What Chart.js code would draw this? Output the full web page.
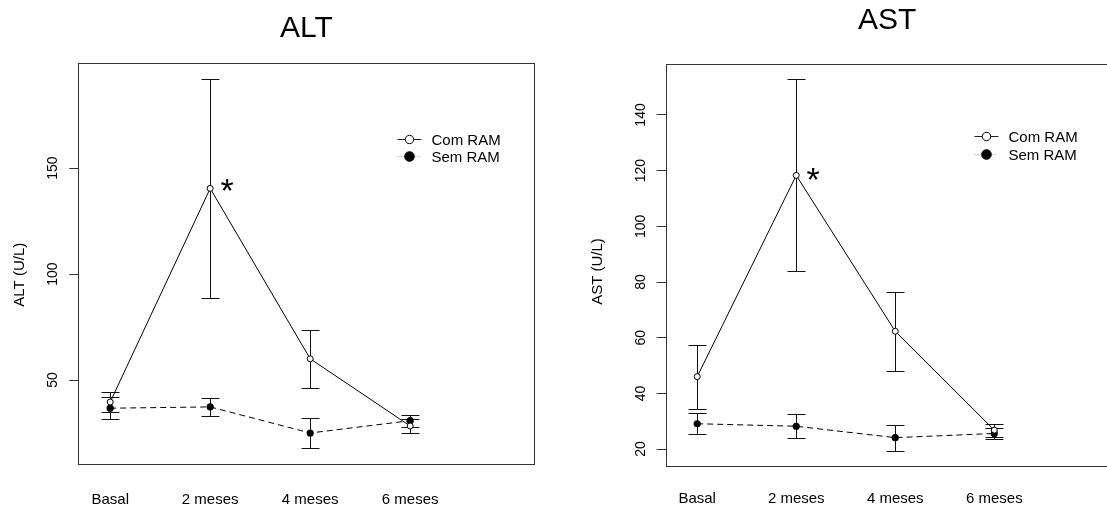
<!DOCTYPE html>
<html>
<head>
<meta charset="utf-8">
<title>ALT / AST</title>
<script src="https://cdn.jsdelivr.net/npm/chart.js@4.4.1/dist/chart.umd.min.js"></script>
<style>
  html, body { margin: 0; padding: 0; background: #fff; overflow: hidden; }
  #wrap { position: relative; width: 1107px; height: 506px; overflow: hidden; background: #fff; }
  .panel { position: absolute; top: 0; height: 506px; }
  #altBox { left: 0; width: 560px; }
  #astBox { left: 560px; width: 700px; }
</style>
</head>
<body>
<div id="wrap">
  <div class="panel" id="altBox"><canvas id="altChart"></canvas></div>
  <div class="panel" id="astBox"><canvas id="astChart"></canvas></div>
</div>
<script>
// ---- values (mean and +/- error) ----
const categories = ['Basal', '2 meses', '4 meses', '6 meses'];
const seriesNames = ['Com RAM', 'Sem RAM'];

const altCom = [39.6, 140.4, 60.0, 28.3];
const altComErr = [4.9, 51.6, 13.6, 3.3];
const altSem = [36.7, 37.3, 25.0, 30.8];
const altSemErr = [5.1, 4.3, 7.2, 2.9];
const altTicks = [50, 100, 150];

const astCom = [46.0, 118.3, 62.3, 26.8];
const astComErr = [11.5, 34.5, 14.2, 2.3];
const astSem = [29.1, 28.2, 24.1, 25.6];
const astSemErr = [3.7, 4.3, 4.7, 2.0];
const astTicks = [20, 40, 60, 80, 100, 120, 140];

// significant difference marked at "2 meses"
const starIndex = 1;

const FONT = "'Liberation Sans', Arial, Helvetica, sans-serif";
const INK = '#000';
Chart.defaults.font.family = FONT;
Chart.defaults.color = INK;

function toXY(values) {
  return values.map((v, i) => ({ x: i + 1, y: v }));
}

// -------------------- error bars (drawn under the points) --------------------
const errorBars = {
  id: 'errorBars',
  beforeDatasetsDraw(chart) {
    const ctx = chart.ctx, xs = chart.scales.x, ys = chart.scales.y;
    ctx.save();
    ctx.strokeStyle = '#111';
    ctx.lineWidth = 1;
    chart.data.datasets.forEach(ds => {
      ds.data.forEach((pt, i) => {
        const e = ds.errors[i];
        const px = Math.round(xs.getPixelForValue(pt.x)) + 0.5;
        const top = Math.round(ys.getPixelForValue(pt.y + e)) + 0.5;
        const bot = Math.round(ys.getPixelForValue(pt.y - e)) + 0.5;
        ctx.beginPath();
        ctx.moveTo(px, top); ctx.lineTo(px, bot);
        ctx.moveTo(px - 9, top); ctx.lineTo(px + 9, top);
        ctx.moveTo(px - 9, bot); ctx.lineTo(px + 9, bot);
        ctx.stroke();
      });
    });
    ctx.restore();
  }
};

// -------------------- box, y title, asterisk, legend --------------------
const extras = {
  id: 'extras',
  afterDraw(chart, args, opts) {
    const { ctx, chartArea: a } = chart;
    const xs = chart.scales.x, ys = chart.scales.y;

    // frame
    ctx.save();
    ctx.strokeStyle = '#333';
    ctx.lineWidth = 1;
    ctx.strokeRect(Math.round(a.left) + 0.5, Math.round(a.top) + 0.5,
                   Math.round(a.right - a.left), Math.round(a.bottom - a.top));
    ctx.restore();

    // y axis title
    ctx.save();
    ctx.fillStyle = INK;
    ctx.font = `15px ${FONT}`;
    ctx.textAlign = 'center';
    ctx.textBaseline = 'middle';
    ctx.translate(a.left + opts.yTitle.dx, a.top + opts.yTitle.dy);
    ctx.rotate(-Math.PI / 2);
    ctx.fillText(opts.yTitle.text, 0, 0);
    ctx.restore();

    // asterisk next to the peak
    const pt = chart.data.datasets[0].data[starIndex];
    ctx.save();
    ctx.fillStyle = INK;
    ctx.font = `34px ${FONT}`;
    ctx.textAlign = 'center';
    ctx.textBaseline = 'alphabetic';
    ctx.fillText('*', xs.getPixelForValue(pt.x) + 17, ys.getPixelForValue(pt.y) + opts.starDy);
    ctx.restore();

    // legend
    const lg = opts.legend;
    ctx.save();
    ctx.font = `15px ${FONT}`;
    ctx.textBaseline = 'middle';
    ctx.textAlign = 'left';
    chart.data.datasets.forEach((ds, i) => {
      const cx = Math.round(a.left + lg.dx) + 0.5;
      const cy = Math.round(a.top + lg.dy + i * lg.step) + 0.5;
      ctx.beginPath();
      ctx.lineWidth = 1;
      ctx.strokeStyle = i ? '#999' : '#222';
      ctx.setLineDash(i ? [1, 2] : []);
      ctx.moveTo(cx - 12, cy); ctx.lineTo(cx + 12, cy);
      ctx.stroke();
      ctx.setLineDash([]);
      ctx.beginPath();
      ctx.arc(cx, cy, i ? 4.8 : 4.2, 0, Math.PI * 2);
      ctx.fillStyle = ds.pointBackgroundColor;
      ctx.fill();
      ctx.strokeStyle = '#000';
      ctx.stroke();
      ctx.fillStyle = INK;
      ctx.fillText(ds.label, cx + 22, cy + 1);
    });
    ctx.restore();
  }
};

function makeChart(id, p) {
  const ctx = document.getElementById(id).getContext('2d');
  return new Chart(ctx, {
    type: 'line',
    data: {
      datasets: [
        {
          label: seriesNames[0],
          data: toXY(p.com),
          errors: p.comErr,
          borderColor: '#000',
          borderWidth: 1,
          pointRadius: 3,
          pointBackgroundColor: '#fff',
          pointBorderColor: '#000',
          pointBorderWidth: 1,
          tension: 0
        },
        {
          label: seriesNames[1],
          data: toXY(p.sem),
          errors: p.semErr,
          borderColor: '#000',
          borderWidth: 1,
          borderDash: [6, 4],
          pointRadius: 3.6,
          pointBackgroundColor: '#000',
          pointBorderColor: '#000',
          pointBorderWidth: 0,
          tension: 0
        }
      ]
    },
    options: {
      responsive: true,
      maintainAspectRatio: false,
      animation: false,
      events: [],
      layout: { padding: { left: p.padLeft, right: p.padRight, top: 0, bottom: 0 } },
      scales: {
        x: {
          type: 'linear',
          min: 0.68,
          max: 5.244,
          afterBuildTicks: s => { s.ticks = categories.map((c, i) => ({ value: i + 1 })); },
          afterFit: s => { s.height = p.xHeight; },
          ticks: {
            callback: v => categories[v - 1],
            font: { size: 15 },
            color: INK,
            padding: p.xPad,
            maxRotation: 0,
            autoSkip: false
          },
          grid: { display: false, drawTicks: false },
          border: { display: false }
        },
        y: {
          min: p.yMin,
          max: p.yMax,
          afterBuildTicks: s => { s.ticks = p.yTicks.map(v => ({ value: v })); },
          afterFit: s => { s.width = p.yWidth; },
          ticks: {
            font: { size: 14 },
            color: INK,
            padding: 4,
            minRotation: 90,
            maxRotation: 90,
            crossAlign: 'center'
          },
          grid: { drawOnChartArea: false, drawTicks: true, tickLength: 9, color: '#333' },
          border: { display: false }
        },
        // empty spacer on the right, only used to shift the plot under the title
        y2: {
          position: 'right',
          display: p.y2Width > 0,
          afterFit: s => { s.width = p.y2Width; },
          ticks: { display: false },
          grid: { display: false, drawTicks: false },
          border: { display: false }
        }
      },
      plugins: {
        legend: { display: false },
        tooltip: { enabled: false },
        title: {
          display: true,
          text: p.title,
          fullSize: p.titleFull,
          color: INK,
          font: { size: 30, weight: 'normal' },
          padding: p.titlePad
        },
        extras: {
          yTitle: p.yTitle,
          legend: p.legend,
          starDy: p.starDy
        }
      }
    },
    plugins: [errorBars, extras]
  });
}

makeChart('altChart', {
  title: 'ALT',
  com: altCom, comErr: altComErr, sem: altSem, semErr: altSemErr,
  yMin: 10.7, yMax: 199.7, yTicks: altTicks,
  padLeft: 0, padRight: 25.4, yWidth: 78.2, y2Width: 0,
  titleFull: false, titlePad: { top: 10.5, bottom: 16.2 },
  xHeight: 42.7, xPad: 27.5,
  yTitle: { text: 'ALT (U/L)', dx: -58.6, dy: 212 },
  legend: { dx: 330.8, dy: 76.3, step: 17 },
  starDy: 14
});

makeChart('astChart', {
  title: 'AST',
  com: astCom, comErr: astComErr, sem: astSem, semErr: astSemErr,
  yMin: 14.1, yMax: 158.3, yTicks: astTicks,
  padLeft: 60.5, padRight: 106.3, yWidth: 45, y2Width: 36.2,
  titleFull: true, titlePad: { top: 2.3, bottom: 25.7 },
  xHeight: 40.5, xPad: 24.5,
  yTitle: { text: 'AST (U/L)', dx: -67.5, dy: 207.5 },
  legend: { dx: 320.5, dy: 71.7, step: 18.6 },
  starDy: 16
});
</script>
</body>
</html>
